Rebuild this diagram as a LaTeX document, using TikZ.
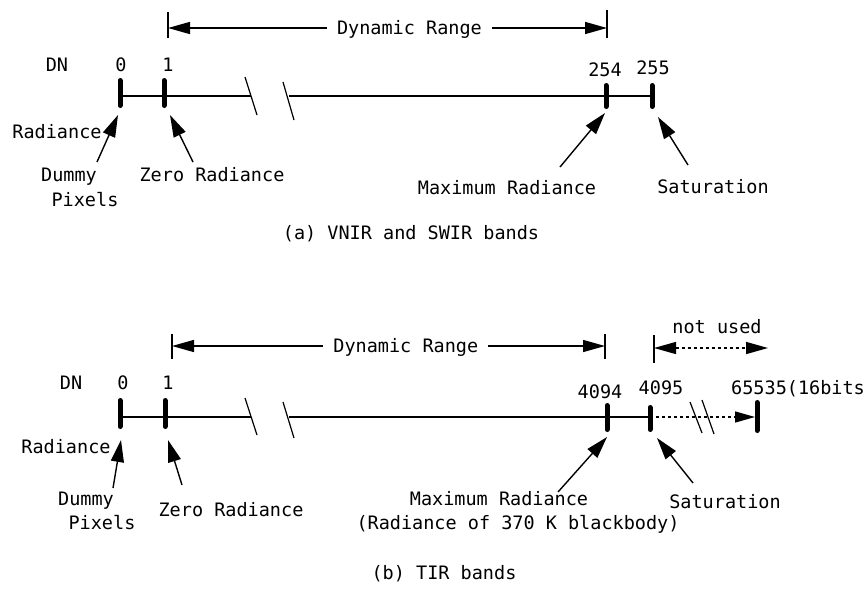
\documentclass[tikz,border=0pt]{standalone}
\usepackage{fontspec}
\setmonofont{DejaVu Sans Mono}
\usetikzlibrary{arrows.meta}
\begin{document}
\begin{tikzpicture}[x=1pt,y=-1pt,
  lbl/.style={font=\ttfamily\fontsize{18.5}{20}\selectfont, inner sep=0pt,
              text height=13.5pt, text depth=0pt},
  axis/.style={line width=1.4pt},
  slash/.style={line width=1.2pt},
  tickmark/.style={line width=5pt, line cap=round},
  dimtick/.style={line width=1.2pt},
  ptr/.style={line width=1.4pt, -{Triangle[length=22pt,width=13pt]}},
  dim/.style={line width=1.4pt,
              {Triangle[length=22pt,width=12pt]}-{Triangle[length=22pt,width=12pt]}},
  dotline/.style={line width=1.4pt, dash pattern=on 3pt off 3pt}
]
\useasboundingbox (0,0) rectangle (866,592);

% ---------------- (a) VNIR and SWIR bands ----------------
% dynamic range dimension
\draw[dimtick] (168,12) -- (168,38);
\draw[dimtick] (607,10) -- (607,38);
\coordinate (aL) at (168,28);
\coordinate (aR) at (607,28);
\draw[dim] (aL) -- (aR)
  node[lbl, pos=0.55, fill=white, inner xsep=10pt, inner ysep=1pt] (aDR) {Dynamic Range};

% DN labels
\node[lbl] (aDN)  at (57,65)  {DN};
\node[lbl] (aN0)  at (121,65) {0};
\node[lbl] (aN1)  at (168,65) {1};
\node[lbl] (aN254) at (605,70) {254};
\node[lbl] (aN255) at (653,68) {255};

% axis with break
\draw[axis] (120,96) -- (251,96);
\draw[axis] (289,96) -- (652,96);
\draw[slash] (245,77) -- (257,115);
\draw[slash] (283,82) -- (294,120);

% ticks
\draw[tickmark] (120,80.5) -- (120,105.5);
\draw[tickmark] (164,80.5) -- (164,105.5);
\draw[tickmark] (606,85.5) -- (606,106.5);
\draw[tickmark] (652,85.5) -- (652,106.5);

% pointers and their labels
\node[lbl] (aRad)   at (57,132)  {Radiance};
\node[lbl] (aDummy) at (69,175)  {Dummy};
\node[lbl] (aPix)   at (85,200)  {Pixels};
\node[lbl] (aZero)  at (212,175) {Zero Radiance};
\node[lbl] (aMax)   at (507,188) {Maximum Radiance};
\node[lbl] (aSat)   at (713,187) {Saturation};

\coordinate (aDtail) at (97,162);  \coordinate (aDtip) at (118,115);
\coordinate (aZtail) at (193,162); \coordinate (aZtip) at (170,115);
\coordinate (aMtail) at (560,167); \coordinate (aMtip) at (605,113);
\coordinate (aStail) at (688,165); \coordinate (aStip) at (658,117);
\draw[ptr] (aDtail) -- (aDtip);
\draw[ptr] (aZtail) -- (aZtip);
\draw[ptr] (aMtail) -- (aMtip);
\draw[ptr] (aStail) -- (aStip);

\node[lbl] (capA) at (411,233) {(a) VNIR and SWIR bands};

% ---------------- (b) TIR bands ----------------
% dynamic range dimension
\draw[dimtick] (172,334) -- (172,359);
\draw[dimtick] (605,334) -- (605,359);
\coordinate (bL) at (172,346);
\coordinate (bR) at (605,346);
\draw[dim] (bL) -- (bR)
  node[lbl, pos=0.54, fill=white, inner xsep=10pt, inner ysep=1pt] (bDR) {Dynamic Range};

% not used dimension
\draw[dimtick] (654,335) -- (654,363);
\coordinate (nuL) at (654,348);
\coordinate (nuR) at (768,348);
\draw[dotline, {Triangle[length=22pt,width=12pt]}-{Triangle[length=22pt,width=12pt]}] (nuL) -- (nuR);
\node[lbl] (bNU) at (717,327) {not used};

% DN labels
\node[lbl] (bDN)   at (71,383)  {DN};
\node[lbl] (bN0)   at (123,383) {0};
\node[lbl] (bN1)   at (168,383) {1};
\node[lbl] (bN4094) at (600,392) {4094};
\node[lbl] (bN4095) at (661,388) {4095};
\node[lbl, anchor=west] (bN65535) at (731,388) {65535(16bits};

% axis with breaks
\draw[axis] (120,417) -- (251,417);
\draw[axis] (289,417) -- (650,417);
\draw[slash] (245,398) -- (257,435);
\draw[slash] (283,402) -- (294,438);
\coordinate (bU0) at (650,417);
\coordinate (bU1) at (755,417);
\draw[dotline, -{Triangle[length=20pt,width=11pt]}] (bU0) -- (bU1);
\draw[slash] (690,402) -- (702,433);
\draw[slash] (702,400) -- (714,434);

% ticks
\draw[tickmark] (120,400.5) -- (120,426.5);
\draw[tickmark] (165,400.5) -- (165,426.5);
\draw[tickmark] (607,405.5) -- (607,429.5);
\draw[tickmark] (650,407.5) -- (650,429.5);
\draw[tickmark] (757,402.5) -- (757,430.5);

% pointers and their labels
\node[lbl] (bRad)   at (66,447)  {Radiance};
\node[lbl] (bDummy) at (86,499)  {Dummy};
\node[lbl] (bPix)   at (102,523) {Pixels};
\node[lbl] (bZero)  at (231,510) {Zero Radiance};
\node[lbl] (bMax)   at (499,499) {Maximum Radiance};
\node[lbl] (bMax2)  at (518,523) {(Radiance of 370 K blackbody)};
\node[lbl] (bSat)   at (725,502) {Saturation};

\coordinate (bDtail) at (113,488); \coordinate (bDtip) at (121,440);
\coordinate (bZtail) at (182,485); \coordinate (bZtip) at (168,440);
\coordinate (bMtail) at (558,492); \coordinate (bMtip) at (607,437);
\coordinate (bStail) at (693,483); \coordinate (bStip) at (657,438);
\draw[ptr] (bDtail) -- (bDtip);
\draw[ptr] (bZtail) -- (bZtip);
\draw[ptr] (bMtail) -- (bMtip);
\draw[ptr] (bStail) -- (bStip);

\node[lbl] (capB) at (444,573) {(b) TIR bands};
\end{tikzpicture}
\end{document}
